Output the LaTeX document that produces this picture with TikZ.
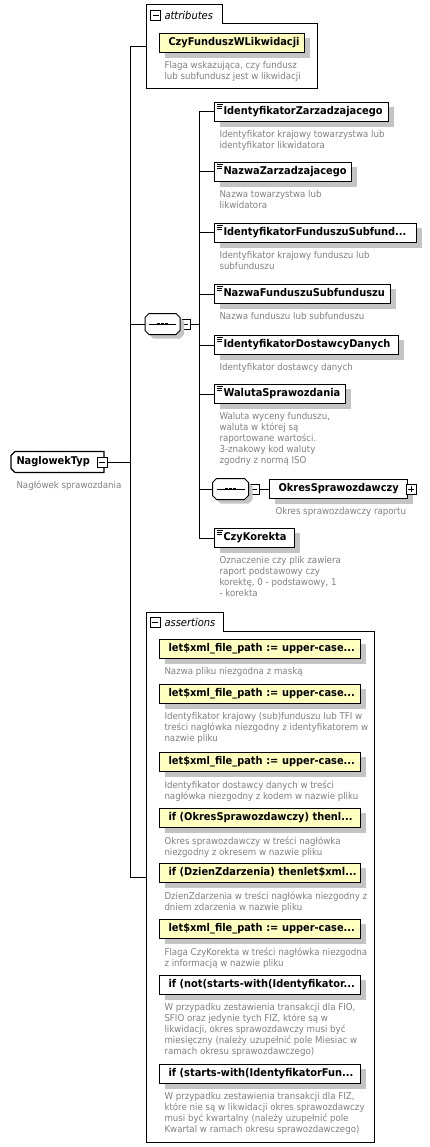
\documentclass[tikz,border=0pt]{standalone}
\usepackage{fontspec}
\setmainfont{DejaVu Sans}[FakeStretch=0.92]
\usepackage{tikz}
\usetikzlibrary{calc,shadows}
\definecolor{descgray}{RGB}{128,128,128}
\definecolor{attrfill}{RGB}{255,255,192}
\definecolor{shadowgray}{RGB}{196,196,196}

\begin{document}
\begin{tikzpicture}[x=1pt, y=-1pt, line width=1pt,
	box/.style={draw, anchor=west, minimum height=19.5pt, inner xsep=9pt, inner ysep=0pt, text width=#1, align=left,
		text height=7.8pt, text depth=2.6pt, font=\fontsize{10.7}{12}\selectfont\bfseries,
		execute at begin node=\hbox\bgroup, execute at end node=\egroup,
		drop shadow={shadow xshift=5pt, shadow yshift=-5pt, fill=shadowgray, opacity=1}},
	elem/.style={box=#1, fill=white, path picture={
		\foreach \d/\l in {2pt/6pt,4pt/5pt,6pt/5pt}
			\draw[line width=0.8pt] ([shift={(2pt,-\d)}]path picture bounding box.north west) -- ++(\l,0pt);}},
	attr/.style={box=#1, fill=attrfill},
	desc/.style={anchor=north west, inner sep=0pt, align=left, text=descgray, font=\fontsize{9.4}{11}\selectfont},
	tabtitle/.style={anchor=west, inner sep=0pt, font=\fontsize{10.8}{12}\selectfont\itshape},
	minus/.style={draw, fill=white, line width=0.8pt, minimum size=10pt, inner sep=0pt, path picture={
		\draw[line width=0.8pt] ([xshift=2pt]path picture bounding box.west) -- ([xshift=-2pt]path picture bounding box.east);}},
	plus/.style={minus, path picture={
		\draw[line width=0.8pt] ([xshift=2pt]path picture bounding box.west) -- ([xshift=-2pt]path picture bounding box.east)
			([yshift=-2pt]path picture bounding box.north) -- ([yshift=2pt]path picture bounding box.south);}},
	comp/.style={inner sep=0pt, minimum width=34pt, minimum height=20pt},
	frame/.style={inner sep=0pt, anchor=north west},
	octo/.style={insert path={($(#1.north west)+(4,0)$) -- ($(#1.north east)+(-4,0)$) -- ($(#1.north east)+(0,4)$)
		-- ($(#1.south east)+(0,-4)$) -- ($(#1.south east)+(-4,0)$) -- ($(#1.south west)+(4,0)$)
		-- ($(#1.south west)+(0,-4)$) -- ($(#1.north west)+(0,4)$) -- cycle}}
]
\useasboundingbox (0,0) rectangle (430,1147);
\coordinate (trunk) at (130,0);
\coordinate (inner) at (199,0);

% attributes
\node[frame, minimum width=170pt, minimum height=83pt] (attrs) at (146,5) {};
\draw (attrs.south west) -- (attrs.north west) -- ++(76,0) -- ++(0,19) -| (attrs.south east) -- cycle;
\node[minus] (attrs-c) at (155.5,15.5) {};
\node[tabtitle] (attrs-t) at (164,15) {attributes};
\node[attr=127pt] (czy) at (159,43) {CzyFunduszWLikwidacji};
\node[desc] (czy-d) at ([xshift=5pt,yshift=-8pt]czy.south west) {Flaga wskazująca, czy fundusz\\lub subfundusz jest w likwidacji};

% typ
\node[anchor=west, minimum width=92pt, minimum height=20pt, inner xsep=5pt, inner ysep=0pt, text width=82pt, align=left,
	font=\fontsize{10.7}{12}\selectfont\bfseries, text height=7.8pt, text depth=2.6pt] (typ) at (11,462) {NaglowekTyp};
\draw[line width=1.3pt] ($(typ.north west)+(4,0)$) -- (typ.north east) -- (typ.south east) -- ($(typ.south west)+(4,0)$)
	-- ($(typ.south west)+(0,-4)$) -- ($(typ.north west)+(0,4)$) -- cycle;
\node[minus] (typ-c) at (102,462) {};
\node[desc] (typ-d) at ([xshift=5pt,yshift=-8pt]typ.south west) {Nagłówek sprawozdania};

% sequence
\node[comp] (seq) at (162.5,324) {};
\node[minus] (seq-c) at (185,324) {};
\node[elem=156pt] (idz) at (214,112) {IdentyfikatorZarzadzajacego};
\node[desc] (idz-d) at ([xshift=5pt,yshift=-8pt]idz.south west) {Identyfikator krajowy towarzystwa lub\\identyfikator likwidatora};
\node[elem=119pt] (nzz) at (214,172) {NazwaZarzadzajacego};
\node[desc] (nzz-d) at ([xshift=5pt,yshift=-8pt]nzz.south west) {Nazwa towarzystwa lub\\likwidatora};
\node[elem=184pt] (idf) at (214,233) {IdentyfikatorFunduszuSubfund...};
\node[desc] (idf-d) at ([xshift=5pt,yshift=-8pt]idf.south west) {Identyfikator krajowy funduszu lub\\subfunduszu};
\node[elem=158pt] (nzf) at (214,294) {NazwaFunduszuSubfunduszu};
\node[desc] (nzf-d) at ([xshift=5pt,yshift=-8pt]nzf.south west) {Nazwa funduszu lub subfunduszu};
\node[elem=166pt] (idd) at (214,345) {IdentyfikatorDostawcyDanych};
\node[desc] (idd-d) at ([xshift=5pt,yshift=-8pt]idd.south west) {Identyfikator dostawcy danych};
\node[elem=113pt] (wal) at (214,394) {WalutaSprawozdania};
\node[desc] (wal-d) at ([xshift=5pt,yshift=-8pt]wal.south west) {Waluta wyceny funduszu,\\waluta w której są\\raportowane wartości.\\3-znakowy kod waluty\\zgodny z normą ISO};
\node[comp, minimum width=35pt] (seqb) at (230.5,489) {};
\node[minus] (seqb-c) at (254,489) {};
\node[box=120pt, fill=white] (okres) at (269,489) {OkresSprawozdawczy};
\node[plus] (okres-c) at (411,489) {};
\node[desc] (okres-d) at ([xshift=6pt,yshift=-8pt]okres.south west) {Okres sprawozdawczy raportu};
\node[elem=62pt] (kor) at (214,538) {CzyKorekta};
\node[desc] (kor-d) at ([xshift=5pt,yshift=-8pt]kor.south west) {Oznaczenie czy plik zawiera\\raport podstawowy czy\\korektę, 0 - podstawowy, 1\\- korekta};

\foreach \c in {seq,seqb} {
	\fill[shadowgray, transform canvas={shift={(4pt,-4pt)}}, octo=\c];
	\draw[fill=white, octo=\c];
	\draw ($(\c.west)+(4,0)$) -- ($(\c.east)+(-4,0)$);
	\foreach \dx in {-4,0,4}
		\fill ($(\c.center)+(\dx,0)$) +(-1.3,-1.3) rectangle +(1.3,1.3);
}

% assertions
\node[frame, minimum width=227pt, minimum height=529pt] (asrt) at (146,612) {};
\draw (asrt.south west) -- (asrt.north west) -- ++(77,0) -- ++(0,19) -| (asrt.south east) -- cycle;
\node[minus] (asrt-c) at (155,622) {};
\node[tabtitle] (asrt-t) at (164,622) {assertions};
\node[attr=183pt] (a1) at (159,649) {let\$xml\_file\_path := upper-case...};
\node[desc] (a1-d) at ([xshift=5pt,yshift=-8pt]a1.south west) {Nazwa pliku niezgodna z maską};
\node[attr=183pt] (a2) at (159,694) {let\$xml\_file\_path := upper-case...};
\node[desc] (a2-d) at ([xshift=5pt,yshift=-8pt]a2.south west) {Identyfikator krajowy (sub)funduszu lub TFI w\\treści nagłówka niezgodny z identyfikatorem w\\nazwie pliku};
\node[attr=183pt] (a3) at (159,762) {let\$xml\_file\_path := upper-case...};
\node[desc] (a3-d) at ([xshift=5pt,yshift=-8pt]a3.south west) {Identyfikator dostawcy danych w treści\\nagłówka niezgodny z kodem w nazwie pliku};
\node[attr=183pt] (a4) at (159,818) {if (OkresSprawozdawczy) thenl...};
\node[desc] (a4-d) at ([xshift=5pt,yshift=-8pt]a4.south west) {Okres sprawozdawczy w treści nagłówka\\niezgodny z okresem w nazwie pliku};
\node[attr=183pt] (a5) at (159,873) {if (DzienZdarzenia) thenlet\$xml...};
\node[desc] (a5-d) at ([xshift=5pt,yshift=-8pt]a5.south west) {DzienZdarzenia w treści nagłówka niezgodny z\\dniem zdarzenia w nazwie pliku};
\node[attr=183pt] (a6) at (159,929) {let\$xml\_file\_path := upper-case...};
\node[desc] (a6-d) at ([xshift=5pt,yshift=-8pt]a6.south west) {Flaga CzyKorekta w treści nagłówka niezgodna\\z informacją w nazwie pliku};
\node[box=183pt, fill=white] (a7) at (159,985) {if (not(starts-with(Identyfikator...};
\node[desc] (a7-d) at ([xshift=5pt,yshift=-8pt]a7.south west) {W przypadku zestawienia transakcji dla FIO,\\SFIO oraz jedynie tych FIZ, które są w\\likwidacji, okres sprawozdawczy musi być\\miesięczny (należy uzupełnić pole Miesiac w\\ramach okresu sprawozdawczego)};
\node[box=183pt, fill=white] (a8) at (159,1074) {if (starts-with(IdentyfikatorFun...};
\node[desc] (a8-d) at ([xshift=5pt,yshift=-8pt]a8.south west) {W przypadku zestawienia transakcji dla FIZ,\\które nie są w likwidacji okres sprawozdawczy\\musi być kwartalny (należy uzupełnić pole\\Kwartal w ramach okresu sprawozdawczego)};

% connectors
\draw (attrs.west) -- (attrs.west -| trunk) -- (asrt.west -| trunk) -- (asrt.west);
\draw (typ-c.east) -- (typ-c.east -| trunk);
\draw (seq.west -| trunk) -- (seq.west);
\draw (seq-c.east) -- (seq-c.east -| inner);
\draw (idz.west -| inner) -- (kor.west -| inner);
\foreach \n in {idz,nzz,idf,nzf,idd,wal,seqb,kor}
	\draw (\n.west -| inner) -- (\n.west);
\draw (seqb-c.east) -- (okres.west);
\end{tikzpicture}
\end{document}
